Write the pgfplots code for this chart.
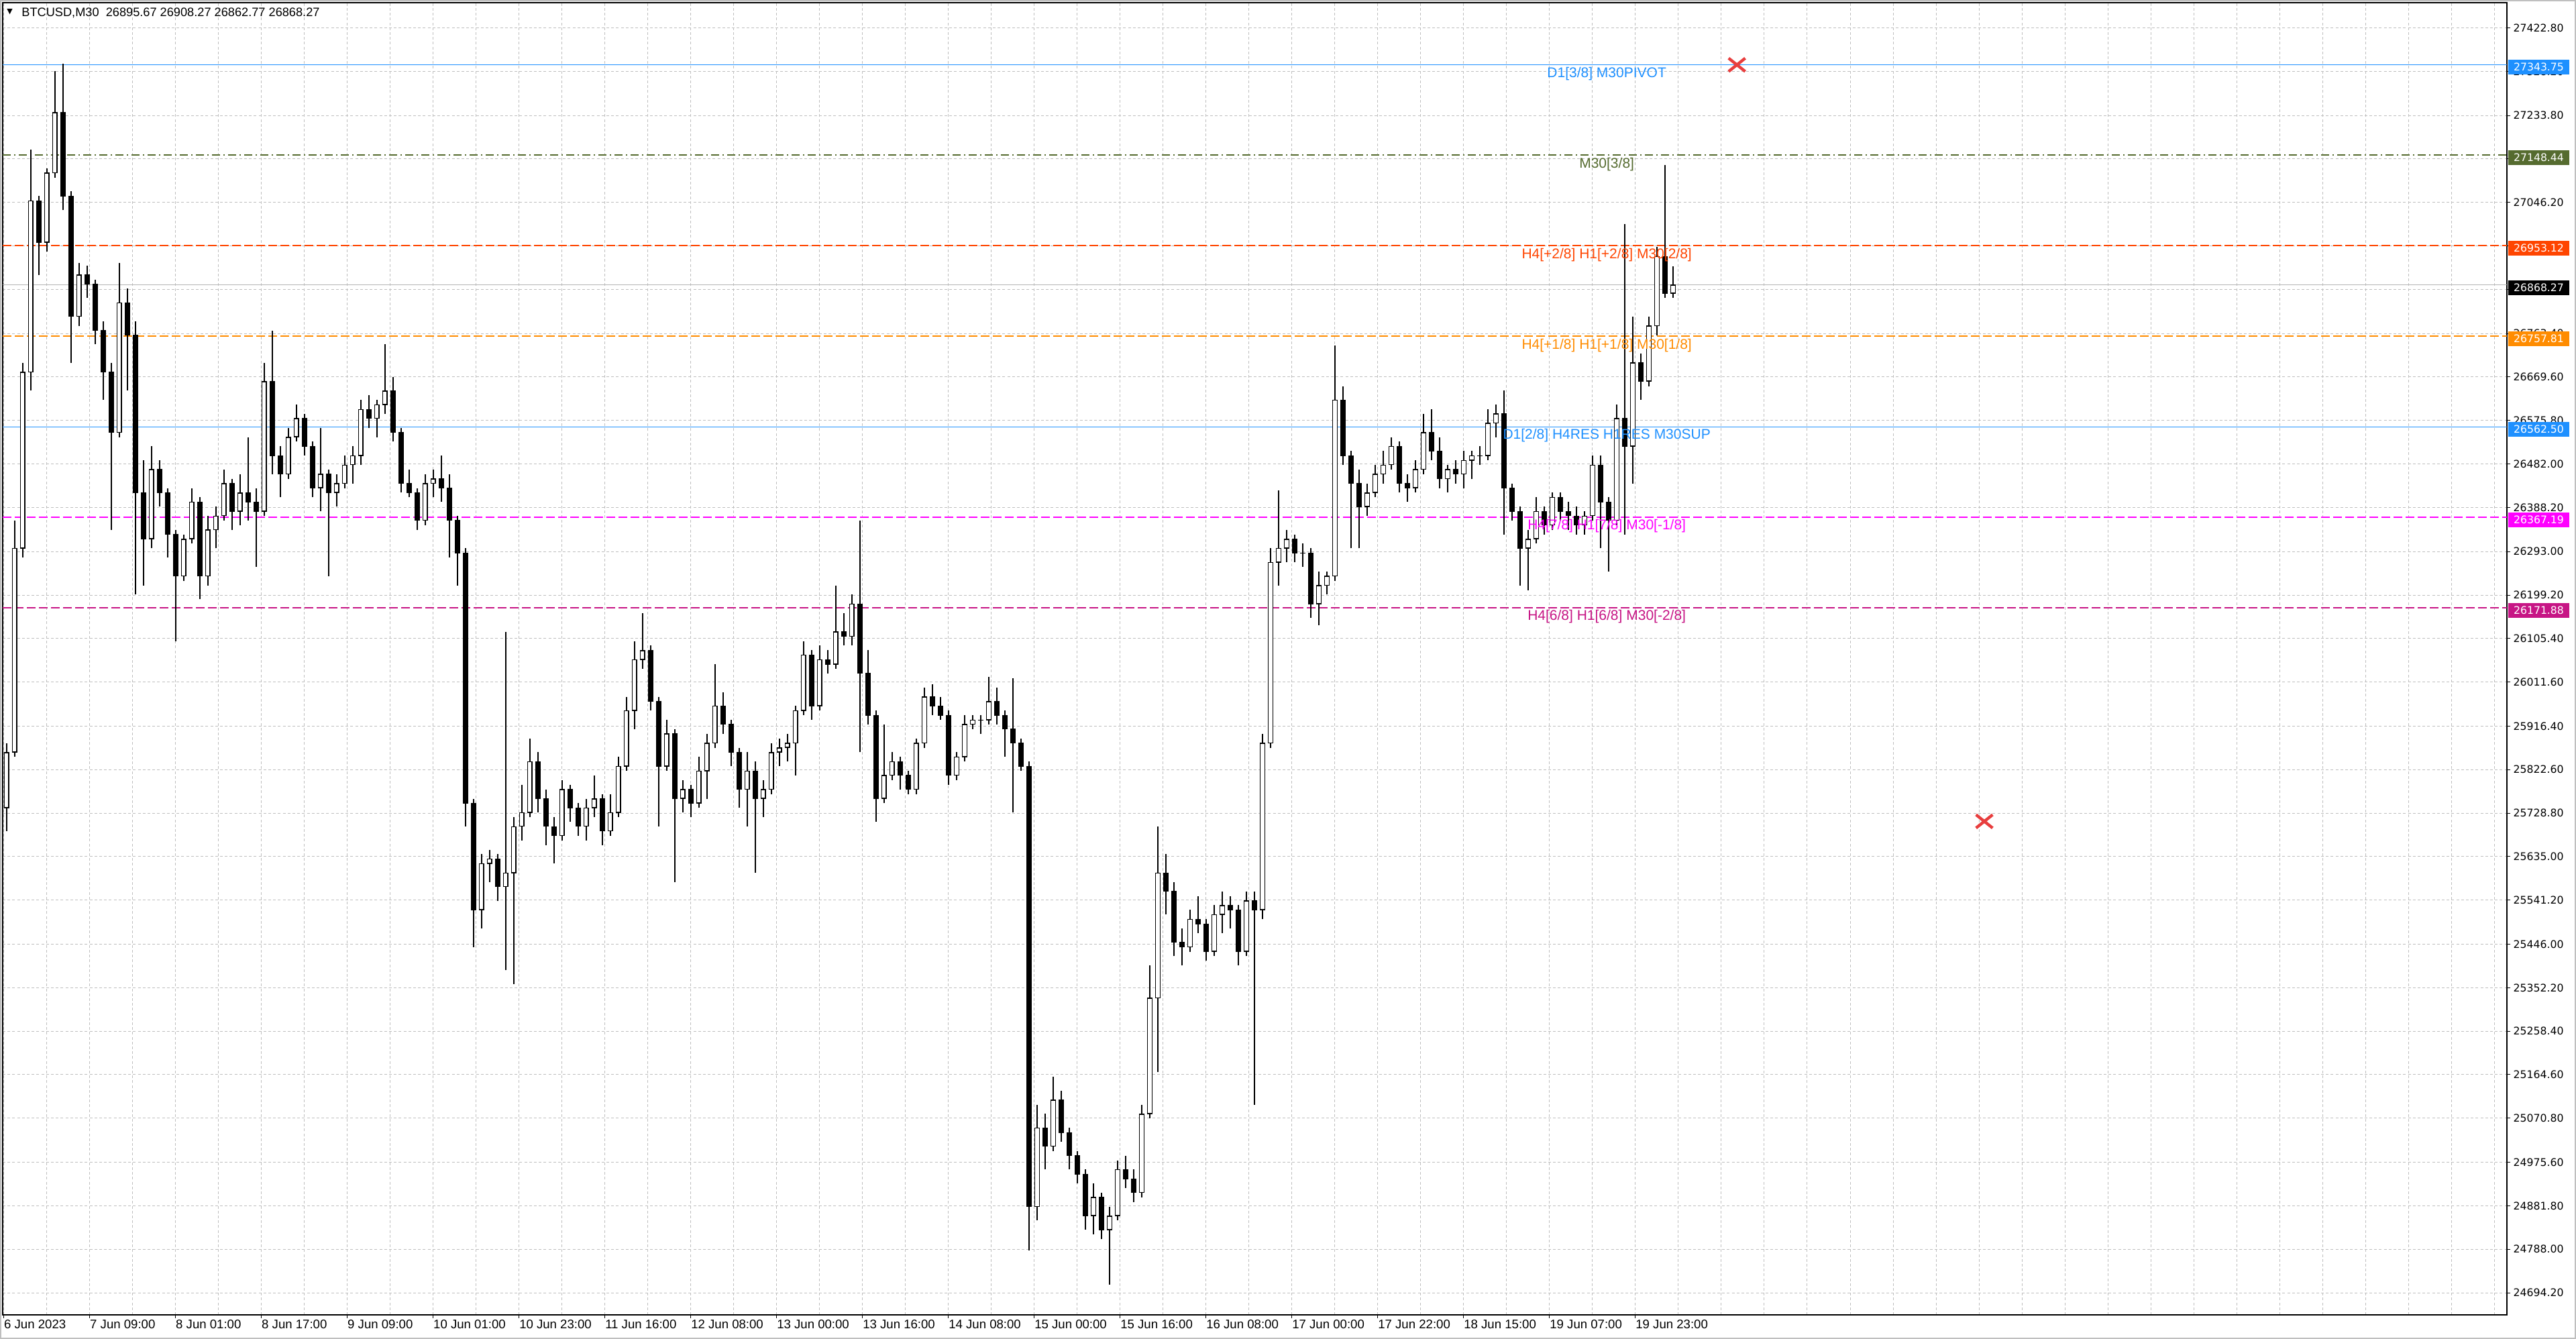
\documentclass[border=0pt]{standalone}
\usepackage{fontspec}
\setmainfont{Liberation Sans}
\newfontfamily\dejavu{DejaVu Sans}
\usepackage{pgfplots}
\usepackage{pgfplotstable}
\pgfplotsset{compat=1.18}

\definecolor{dodgerblue}{RGB}{30,144,255}
\definecolor{darkolive}{RGB}{85,107,47}
\definecolor{orangered}{RGB}{255,69,0}
\definecolor{darkorange}{RGB}{255,140,0}
\definecolor{mag}{RGB}{255,0,255}
\definecolor{mvred}{RGB}{199,21,133}
\definecolor{gridgray}{RGB}{190,190,190}
\definecolor{pricegray}{RGB}{180,180,180}
\definecolor{xred}{RGB}{232,62,62}

\newcommand\lvl{\fontsize{10.5}{12}\selectfont}
\newcommand\boxfont{\dejavu\fontsize{7.85}{9}\selectfont}

% BTCUSD M30, read in groups of three bars: x = bar index, o h l c
\pgfplotstableread{
x o h l c
1 25740 25880 25690 25860
4 25860 26360 25850 26300
7 26300 26700 26280 26680
10 26680 27160 26640 27050
13 27050 27060 26890 26960
16 26960 27120 26940 27110
19 27110 27330 27100 27240
22 27240 27345 27030 27060
25 27060 27070 26700 26800
28 26800 26915 26780 26890
31 26890 26910 26840 26870
34 26870 26880 26740 26770
37 26770 26790 26620 26680
40 26680 26700 26340 26550
43 26550 26916 26540 26830
46 26830 26860 26640 26760
49 26760 26790 26200 26420
52 26420 26490 26220 26320
55 26320 26520 26300 26470
58 26470 26490 26390 26420
61 26420 26430 26280 26330
64 26330 26340 26100 26240
67 26240 26330 26230 26320
70 26320 26430 26310 26400
73 26400 26410 26190 26240
76 26240 26370 26220 26340
79 26340 26390 26300 26370
82 26370 26470 26360 26440
85 26440 26450 26340 26380
88 26380 26460 26350 26420
91 26420 26540 26360 26400
94 26400 26430 26260 26380
97 26380 26700 26370 26660
100 26660 26770 26460 26500
103 26500 26520 26410 26460
106 26460 26560 26450 26540
109 26540 26610 26530 26580
112 26580 26590 26500 26520
115 26520 26530 26410 26430
118 26430 26560 26380 26460
121 26460 26470 26240 26420
124 26420 26460 26390 26440
127 26440 26500 26430 26480
130 26480 26520 26440 26500
133 26500 26620 26480 26600
136 26600 26630 26560 26580
139 26580 26620 26540 26610
142 26610 26740 26590 26640
145 26640 26670 26530 26550
148 26550 26560 26420 26440
151 26440 26470 26410 26420
154 26420 26430 26340 26360
157 26360 26460 26350 26440
160 26440 26470 26410 26450
163 26450 26500 26400 26430
166 26430 26460 26280 26360
169 26360 26370 26220 26290
172 26290 26300 25700 25750
175 25750 25760 25440 25520
178 25520 25640 25480 25620
181 25620 25650 25580 25630
184 25630 25640 25540 25570
187 25570 26120 25390 25600
190 25600 25720 25360 25700
193 25700 25790 25670 25730
196 25730 25890 25720 25840
199 25840 25860 25730 25760
202 25760 25780 25660 25700
205 25700 25720 25620 25680
208 25680 25800 25670 25780
211 25780 25790 25710 25740
214 25740 25750 25680 25700
217 25700 25760 25670 25740
220 25740 25810 25720 25760
223 25760 25770 25660 25690
226 25690 25770 25680 25730
229 25730 25850 25720 25830
232 25830 25980 25820 25950
235 25950 26100 25910 26060
238 26060 26160 26040 26080
241 26080 26090 25950 25970
244 25970 25980 25700 25830
247 25830 25930 25820 25900
250 25900 25910 25580 25760
253 25760 25800 25730 25780
256 25780 25790 25720 25750
259 25750 25850 25740 25820
262 25820 25900 25760 25880
265 25880 26050 25870 25960
268 25960 25990 25900 25920
271 25920 25930 25830 25860
274 25860 25870 25740 25780
277 25780 25860 25700 25820
280 25820 25840 25600 25760
283 25760 25800 25720 25780
286 25780 25880 25770 25860
289 25860 25890 25830 25870
292 25870 25900 25840 25880
295 25880 25960 25810 25950
298 25950 26100 25940 26070
301 26070 26080 25930 25960
304 25960 26090 25950 26060
307 26060 26080 26030 26050
310 26050 26220 26040 26120
313 26120 26160 26090 26110
316 26110 26200 26090 26180
319 26180 26360 25860 26030
322 26030 26080 25920 25940
325 25940 25950 25710 25760
328 25760 25920 25750 25810
331 25810 25860 25800 25840
334 25840 25850 25780 25810
337 25810 25820 25770 25780
340 25780 25890 25770 25880
343 25880 26000 25870 25980
346 25980 26007 25940 25960
349 25960 25980 25930 25940
352 25940 25950 25790 25810
355 25810 25860 25800 25850
358 25850 25940 25840 25920
361 25920 25940 25910 25930
364 25930 25940 25900 25930
367 25930 26023 25920 25970
370 25970 26000 25920 25940
373 25940 25950 25850 25910
376 25910 26020 25730 25880
379 25880 25890 25820 25830
382 25830 25840 24786 24880
385 24880 25100 24850 25050
388 25050 25080 24960 25010
391 25010 25160 25000 25110
394 25110 25130 25020 25040
397 25040 25050 24960 24990
400 24990 25000 24930 24950
403 24950 24960 24830 24860
406 24860 24930 24820 24900
409 24900 24910 24810 24830
412 24830 24880 24712 24860
415 24860 24980 24850 24960
418 24960 24990 24920 24940
421 24940 24960 24890 24910
424 24910 25100 24900 25080
427 25080 25400 25070 25330
430 25330 25700 25170 25600
433 25600 25640 25510 25560
436 25560 25580 25420 25450
439 25450 25480 25400 25440
442 25440 25520 25430 25500
445 25500 25550 25470 25490
448 25490 25500 25410 25430
451 25430 25530 25420 25510
454 25510 25560 25470 25530
457 25530 25550 25480 25520
460 25520 25530 25400 25430
463 25430 25560 25420 25540
466 25540 25560 25100 25520
469 25520 25900 25500 25880
472 25880 26300 25870 26270
475 26270 26425 26220 26300
478 26300 26340 26270 26320
481 26320 26330 26270 26290
484 26290 26310 26260 26290
487 26290 26300 26150 26180
490 26180 26250 26134 26220
493 26220 26250 26200 26240
496 26240 26737 26230 26620
499 26620 26650 26480 26500
502 26500 26510 26300 26440
505 26440 26470 26300 26390
508 26390 26440 26370 26420
511 26420 26480 26410 26460
514 26460 26510 26440 26480
517 26480 26540 26470 26520
520 26520 26530 26420 26440
523 26440 26460 26400 26430
526 26430 26490 26420 26470
529 26470 26590 26460 26550
532 26550 26600 26490 26510
535 26510 26540 26430 26450
538 26450 26480 26420 26470
541 26470 26490 26440 26460
544 26460 26510 26430 26490
547 26490 26510 26450 26500
550 26500 26520 26480 26500
553 26500 26600 26490 26570
556 26570 26610 26540 26590
559 26590 26640 26330 26430
562 26430 26440 26360 26380
565 26380 26390 26220 26300
568 26300 26340 26210 26320
571 26320 26410 26310 26380
574 26380 26390 26330 26350
577 26350 26420 26340 26410
580 26410 26420 26360 26380
583 26380 26400 26340 26370
586 26370 26390 26330 26350
589 26350 26380 26330 26370
592 26370 26500 26360 26480
595 26480 26500 26300 26400
598 26400 26410 26250 26360
601 26360 26610 26350 26580
604 26580 27000 26330 26520
607 26520 26800 26440 26700
610 26700 26720 26620 26660
613 26660 26800 26650 26780
616 26780 26950 26760 26930
619 26930 27127 26840 26850
622 26850 26908 26840 26868.27
}\btc

\begin{document}
\begin{tikzpicture}
\fill[white] (-2pt,-18pt) rectangle (1918pt,980pt);
\begin{axis}[
  at={(0,0)}, anchor=south west,
  scale only axis, width=1866.5pt, height=978pt,
  xmin=-0.45, xmax=932.8, ymin=24646.5, ymax=27477.1,
  clip=false, scaled x ticks=false, scaled y ticks=false,
  axis line style={black, line width=0.8pt},
  tick align=outside, major tick length=2.5pt, minor tick length=0pt,
  tick style={black, line width=0.5pt},
  xtick pos=left, ytick pos=right, yticklabel pos=right,
  xtick={0,32,...,608},
  xticklabels={6 Jun 2023, 7 Jun 09:00, 8 Jun 01:00, 8 Jun 17:00, 9 Jun 09:00,
    10 Jun 01:00, 10 Jun 23:00, 11 Jun 16:00, 12 Jun 08:00, 13 Jun 00:00,
    13 Jun 16:00, 14 Jun 08:00, 15 Jun 00:00, 15 Jun 16:00, 16 Jun 08:00,
    17 Jun 00:00, 17 Jun 22:00, 18 Jun 15:00, 19 Jun 07:00, 19 Jun 23:00},
  minor xtick={16,48,80,112,144,176,208,240,272,304,336,368,400,432,464,496,
    528,560,592,624,640,656,672,688,704,720,736,752,768,784,800,816,832,848,
    864,880,896,912,928},
  xticklabel style={anchor=north west, inner sep=0pt, yshift=-1pt,
    font=\fontsize{9.3}{10}\selectfont},
  ytick={24694.2,24788.0,24881.8,24975.6,25070.8,25164.6,25258.4,25352.2,
    25446.0,25541.2,25635.0,25728.8,25822.6,25916.4,26011.6,26105.4,26199.2,
    26293.0,26388.2,26482.0,26575.8,26669.6,26763.4,26858.6,26952.4,27046.2,
    27140.0,27233.8,27328.2,27422.8},
  yticklabels={24694.20,24788.00,24881.80,24975.60,25070.80,25164.60,25258.40,
    25352.20,25446.00,25541.20,25635.00,25728.80,25822.60,25916.40,26011.60,
    26105.40,26199.20,26293.00,26388.20,26482.00,26575.80,26669.60,26763.40,
    26858.60,26952.40,27046.20,27140.00,27233.80,27328.20,27422.80},
  yticklabel style={anchor=west, inner sep=0pt, xshift=2pt, font=\boxfont},
  xmajorgrids, xminorgrids, ymajorgrids,
  grid style={gridgray, dash pattern=on 2pt off 1.6pt, line width=0.5pt},
  minor grid style={gridgray, dash pattern=on 2pt off 1.6pt, line width=0.5pt},
]

% level lines
\addplot[dodgerblue, line width=0.45pt, forget plot] coordinates {(-0.45,27343.75) (932.8,27343.75)};
\addplot[darkolive, line width=0.6pt, dash pattern=on 6pt off 2.5pt on 1pt off 2.5pt, forget plot] coordinates {(-0.45,27148.44) (932.8,27148.44)};
\addplot[orangered, line width=0.7pt, dash pattern=on 6.5pt off 2.5pt, forget plot] coordinates {(-0.45,26953.12) (932.8,26953.12)};
\addplot[pricegray, line width=0.5pt, forget plot] coordinates {(-0.45,26868.27) (932.8,26868.27)};
\addplot[darkorange, line width=0.7pt, dash pattern=on 6.5pt off 2.5pt, forget plot] coordinates {(-0.45,26757.81) (932.8,26757.81)};
\addplot[dodgerblue, line width=0.45pt, forget plot] coordinates {(-0.45,26562.50) (932.8,26562.50)};
\addplot[mag, line width=0.7pt, dash pattern=on 6.5pt off 2.5pt, forget plot] coordinates {(-0.45,26367.19) (932.8,26367.19)};
\addplot[mvred, line width=0.7pt, dash pattern=on 6.5pt off 2.5pt, forget plot] coordinates {(-0.45,26171.88) (932.8,26171.88)};

% candles: wicks, bodies, hollow inside of rising bars
\addplot[draw=none, no markers, forget plot,
  error bars/.cd, y dir=plus, y explicit, error mark=none,
  error bar style={draw=black, line width=0.75pt}]
  table[x=x, y=l, y error plus expr={\thisrow{h}-\thisrow{l}}] {\btc};
\addplot[draw=none, no markers, forget plot,
  error bars/.cd, y dir=plus, y explicit, error mark=none,
  error bar style={draw=black, line width=4.2pt}]
  table[x=x, y expr={min(\thisrow{o},\thisrow{c})-0.7},
    y error plus expr={abs(\thisrow{c}-\thisrow{o})+1.4}] {\btc};
\addplot[draw=none, no markers, forget plot,
  error bars/.cd, y dir=plus, y explicit, error mark=none,
  error bar style={draw=white, line width=2.6pt}]
  table[x=x, y expr={\thisrow{o}+1.6},
    y error plus expr={max(\thisrow{c}-\thisrow{o}-3.2,0)}] {\btc};

% crosses
\addplot[only marks, mark=x, mark size=8.75pt, mark options={yscale=0.8},
  line width=2.2pt, xred, forget plot] coordinates {(645.8,27343) (738,25711)};

% level captions
\node[text=dodgerblue, anchor=base, font=\lvl, yshift=-9.5pt] at (axis cs:597.3,27343.75) {D1[3/8] M30PIVOT};
\node[text=darkolive, anchor=base, font=\lvl, yshift=-9.5pt] at (axis cs:597.3,27148.44) {M30[3/8]};
\node[text=orangered, anchor=base, font=\lvl, yshift=-9.5pt] at (axis cs:597.3,26953.12) {H4[+2/8] H1[+2/8] M30[2/8]};
\node[text=darkorange, anchor=base, font=\lvl, yshift=-9.5pt] at (axis cs:597.3,26757.81) {H4[+1/8] H1[+1/8] M30[1/8]};
\node[text=dodgerblue, anchor=base, font=\lvl, yshift=-9.5pt] at (axis cs:597.3,26562.50) {D1[2/8] H4RES H1RES M30SUP};
\node[text=mag, anchor=base, font=\lvl, yshift=-9.5pt] at (axis cs:597.3,26367.19) {H4[7/8] H1[7/8] M30[-1/8]};
\node[text=mvred, anchor=base, font=\lvl, yshift=-9.5pt] at (axis cs:597.3,26171.88) {H4[6/8] H1[6/8] M30[-2/8]};

% price boxes on the scale
\tikzset{pbox/.style={fill=#1, text=white, anchor=west, inner sep=0pt,
  minimum height=11pt, text width=45.5pt, font=\boxfont, xshift=0.5pt, yshift=-2pt}}
\node[pbox=dodgerblue] at (axis cs:932.8,27343.75) {\hspace*{4.2pt}27343.75};
\node[pbox=darkolive] at (axis cs:932.8,27148.44) {\hspace*{4.2pt}27148.44};
\node[pbox=orangered] at (axis cs:932.8,26953.12) {\hspace*{4.2pt}26953.12};
\node[pbox=black] at (axis cs:932.8,26868.27) {\hspace*{4.2pt}26868.27};
\node[pbox=darkorange] at (axis cs:932.8,26757.81) {\hspace*{4.2pt}26757.81};
\node[pbox=dodgerblue] at (axis cs:932.8,26562.50) {\hspace*{4.2pt}26562.50};
\node[pbox=mag] at (axis cs:932.8,26367.19) {\hspace*{4.2pt}26367.19};
\node[pbox=mvred] at (axis cs:932.8,26171.88) {\hspace*{4.2pt}26171.88};
\end{axis}

% header
\node[inner sep=0pt, font=\dejavu\fontsize{5.5}{6}\selectfont] at (5.3pt,971pt) {▼};
\node[anchor=west, inner sep=0pt, font=\fontsize{9.1}{10}\selectfont] at (14pt,970.5pt)
  {BTCUSD,M30\ \ 26895.67 26908.27 26862.77 26868.27};

\draw[gray!50, line width=0.8pt] (-1.6pt,-17.6pt) rectangle (1917.6pt,979.6pt);
\pgfresetboundingbox
\useasboundingbox (-2pt,-18pt) rectangle (1918pt,980pt);
\end{tikzpicture}
\end{document}
